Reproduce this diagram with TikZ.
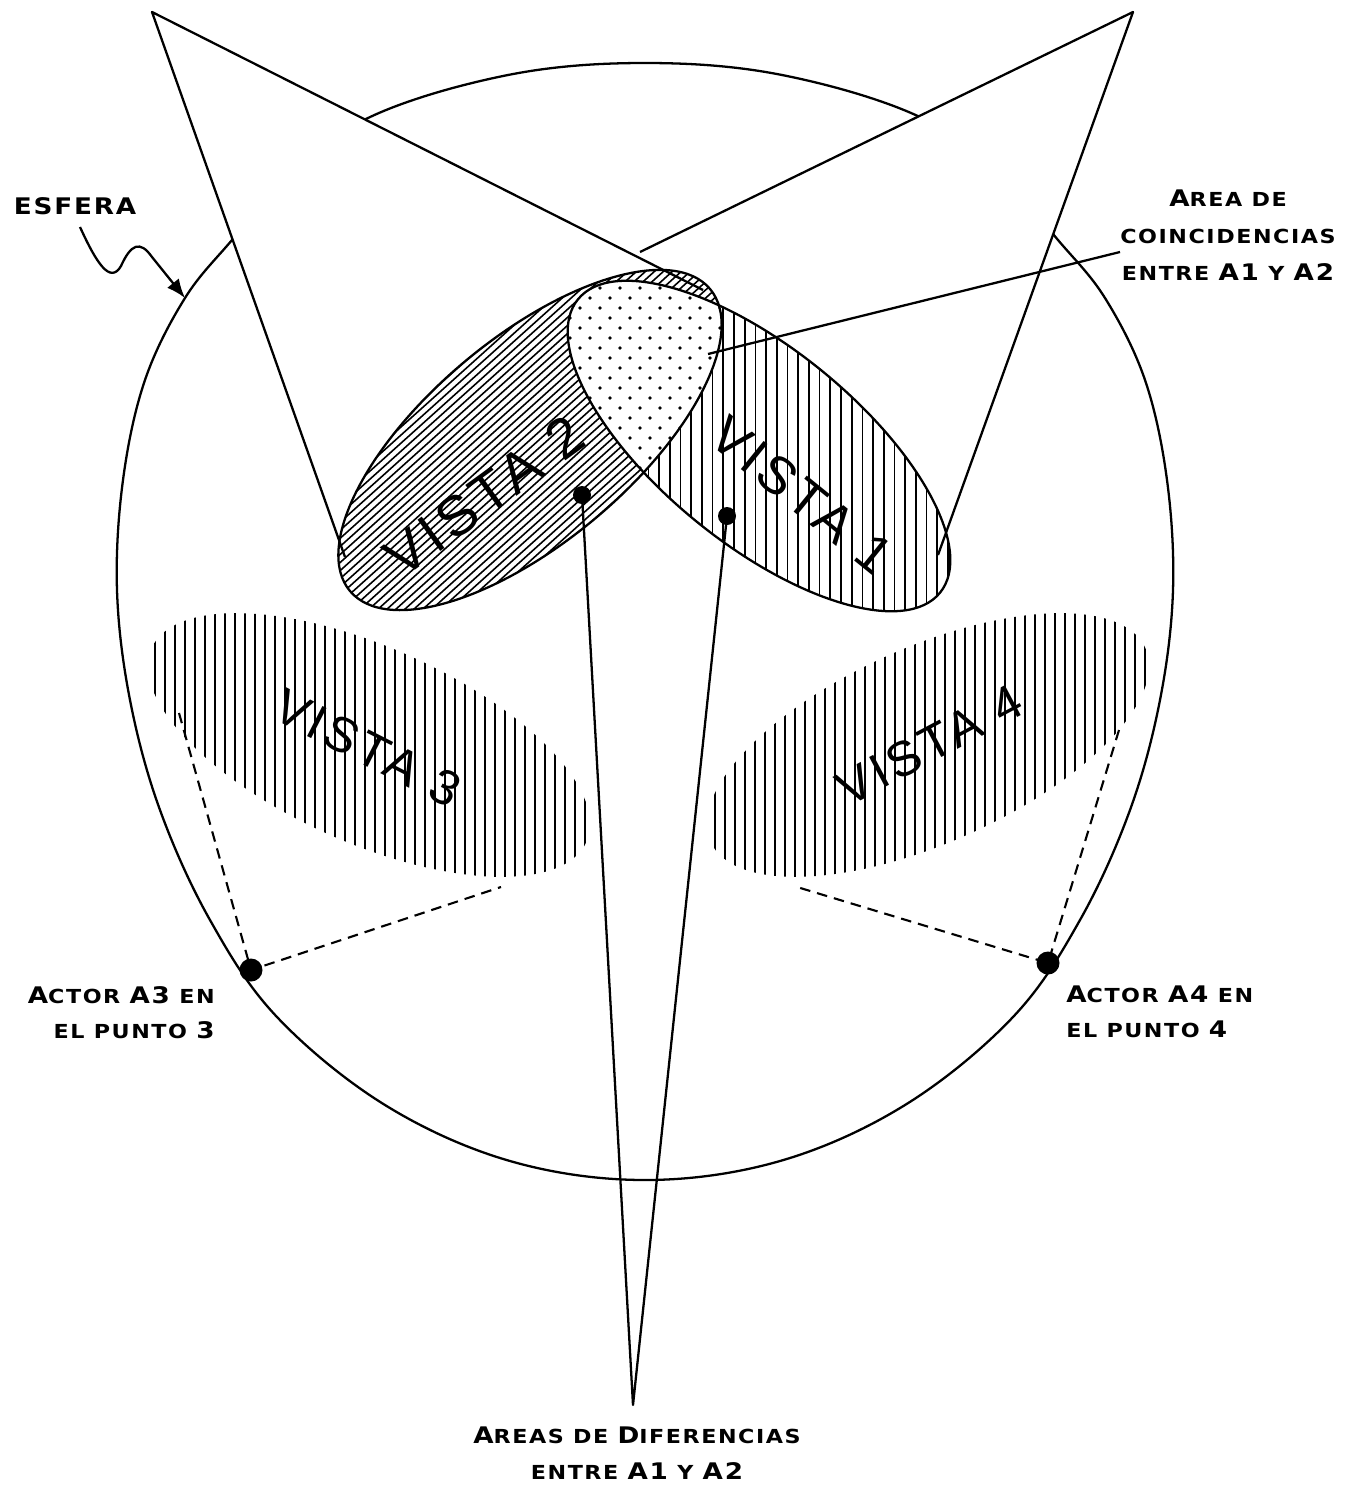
\documentclass[tikz,border=0pt]{standalone}
\usepackage{fontspec}
\usetikzlibrary{arrows.meta}
\newfontfamily\lab[FakeStretch=1.15,LetterSpace=8]{DejaVu Sans}
\newfontfamily\vis[LetterSpace=9]{Liberation Sans}
\newcommand\Lg[1]{{\fontsize{13}{20.5}\selectfont #1}}
\newcommand\Sm[1]{{\fontsize{11}{20.5}\selectfont #1}}
\begin{document}
\begin{tikzpicture}[x=0.02cm,y=-0.02cm,line join=round,
  outl/.style={line width=1.3pt},
  hatchl/.style={line width=0.95pt},
  dashl/.style={line width=1.2pt,dash pattern=on 6pt off 4pt},
  lbl/.style={inner sep=0pt},
  vlbl/.style={inner sep=0pt},
  vdot/.style={circle,fill=black,inner sep=0pt,minimum size=0.36cm},
  adot/.style={circle,fill=black,inner sep=0pt,minimum size=0.46cm}]
\useasboundingbox (0,0) rectangle (1351,1488);
\fill[white] (0,0) rectangle (1351,1488);
% sphere
\draw[outl] plot[smooth cycle,tension=0.6] coordinates {
 (645,63) (782,75) (922,118) (1010,185) (1058,240) (1105,298) (1145,380) (1167,480) (1173,590)
 (1160,700) (1130,810) (1080,920) (1013,1017) (905,1105) (780,1161) (645,1180)
 (510,1161) (385,1105) (277,1017) (210,920) (160,810) (130,700) (117,590)
 (123,480) (145,380) (185,298) (232,240) (280,185) (368,118) (508,75)};
% right cone
\coordinate (rap) at (1133,12);
\coordinate (rl) at (640,252);
\coordinate (rr) at (938,555);
\fill[white] (rap) -- (rr) -- (760,440) -- (rl) -- cycle;
\draw[outl] (rl) -- (rap) -- (rr);
% left cone
\coordinate (lap) at (152,12);
\coordinate (ll) at (345,557);
\coordinate (lr) at (703,290);
\fill[white] (lap) -- (ll) -- (520,440) -- (lr) -- cycle;
\draw[outl] (ll) -- (lap) -- (lr);
% vista 3 and 4
\begin{scope}
\clip[rotate around={-24:(369,745)}] (369,745) ellipse (238 and 98);
\foreach \x in {125,135,...,615} \draw[hatchl] (\x,600) -- (\x,900);
\end{scope}
\begin{scope}
\clip[rotate around={24:(928,745)}] (928,745) ellipse (238 and 98);
\foreach \x in {685,695,...,1175} \draw[hatchl] (\x,600) -- (\x,900);
\end{scope}
% vista 2 hatch
\begin{scope}
\clip[rotate around={40:(530,440)}] (530,440) ellipse (235 and 102);
\begin{scope}[rotate around={42:(530,440)}]
\foreach \i in {-20,...,20} \draw[line width=0.9pt] (250,440+\i*6) -- (810,440+\i*6);
\end{scope}
\end{scope}
% vista 1 hatch
\begin{scope}
\clip[rotate around={-39:(759,446)}] (759,446) ellipse (233 and 98);
\foreach \x in {520,530.7,...,1000} \draw[hatchl] (\x,250) -- (\x,640);
\end{scope}
% coincidence area
\begin{scope}
\clip[rotate around={-39:(759,446)}] (759,446) ellipse (233 and 98);
\fill[white,rotate around={40:(530,440)}] (530,440) ellipse (235 and 102);
\clip[rotate around={40:(530,440)}] (530,440) ellipse (235 and 102);
\foreach \r in {0,...,22}{\pgfmathsetmacro\off{mod(\r,2)*10}
  \foreach \c in {0,...,10}{\fill (540+\c*20+\off,268+\r*10) circle (1.9);}}
\end{scope}
\draw[outl,rotate around={40:(530,440)}] (530,440) ellipse (235 and 102);
\draw[outl,rotate around={-39:(759,446)}] (759,446) ellipse (233 and 98);
% vista labels
\node[vlbl,rotate=36,font=\vis\fontsize{32}{34}\selectfont] (v2) at (484,496) {VISTA 2};
\node[vlbl,rotate=-39,font=\vis\fontsize{30}{34}\selectfont] (v1) at (802,495) {VISTA 1};
\node[vlbl,rotate=-27,font=\vis\fontsize{28}{30}\selectfont] (v3) at (368,748) {VISTA 3};
\node[vlbl,rotate=28,font=\vis\fontsize{28}{30}\selectfont] (v4) at (930,745) {VISTA 4};
% dots and bottom cone
\node[vdot] (d2) at (582,495) {};
\node[vdot] (d1) at (727,516) {};
\coordinate (apex) at (633,1405);
\draw[outl] (d2.center) -- (apex) -- (d1.center);
% actors
\node[adot] (a3) at (251,970) {};
\node[adot] (a4) at (1048,963) {};
\coordinate (v3a) at (179,713);
\coordinate (v3b) at (501,887);
\coordinate (v4a) at (1119,730);
\coordinate (v4b) at (797,887);
\draw[dashl] (v3a) -- (a3.center) -- (v3b);
\draw[dashl] (v4a) -- (a4.center) -- (v4b);
% labels
\node[lbl,anchor=base,font=\lab\bfseries\fontsize{13}{20.5}\selectfont] (esfera) at (75,214) {ESFERA};
\coordinate (esftip) at (185,298);
\draw[outl,-{Latex[length=0.38cm,width=0.3cm]}] (80,227) .. controls (96,262) and (110,285) .. (121,266) .. controls (131,244) and (140,240) .. (152,257) -- (esftip);
\node[lbl,anchor=north,align=center,font=\lab\bfseries\fontsize{11}{21.3}\selectfont] (coinc) at (1228,189) {\Lg{A}\Sm{REA DE}\\\Sm{COINCIDENCIAS}\\\Sm{ENTRE }\Lg{A1}\Sm{ Y }\Lg{A2}};
\coordinate (cst) at (1120,252);
\coordinate (cend) at (708,354);
\draw[outl] (cst) -- (cend);
\node[lbl,anchor=north east,align=right,font=\lab\bfseries\fontsize{11}{20}\selectfont] (act3) at (215,986) {\Lg{A}\Sm{CTOR }\Lg{A3}\Sm{ EN}\\\Sm{EL PUNTO }\Lg{3}};
\node[lbl,anchor=north west,align=left,font=\lab\bfseries\fontsize{11}{20}\selectfont] (act4) at (1066,985) {\Lg{A}\Sm{CTOR }\Lg{A4}\Sm{ EN}\\\Sm{EL PUNTO }\Lg{4}};
\node[lbl,anchor=north,align=center,font=\lab\bfseries\fontsize{11}{21}\selectfont] (dif) at (637,1426) {\Lg{A}\Sm{REAS DE }\Lg{D}\Sm{IFERENCIAS}\\\Sm{ENTRE }\Lg{A1}\Sm{ Y }\Lg{A2}};
\end{tikzpicture}
\end{document}
